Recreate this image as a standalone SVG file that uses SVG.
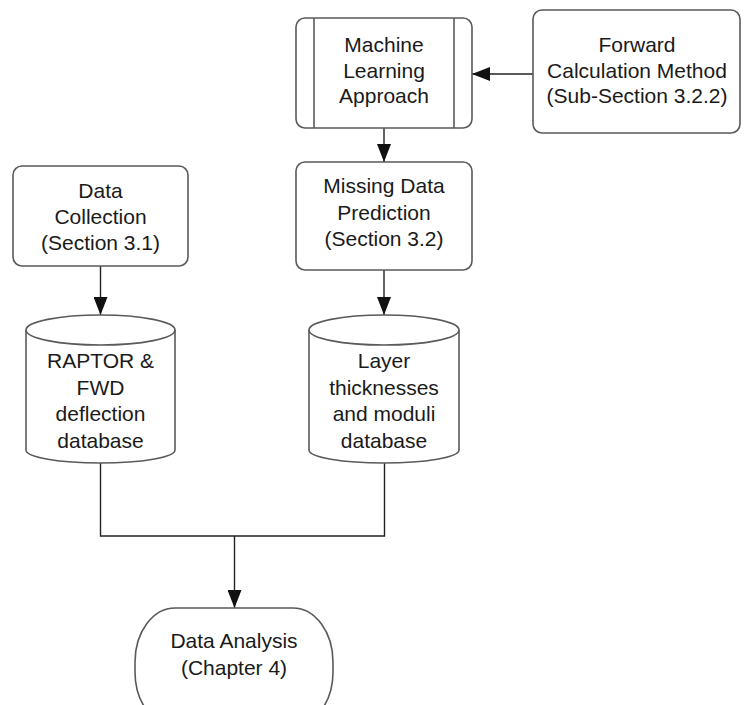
<svg xmlns="http://www.w3.org/2000/svg" width="746" height="705" viewBox="0 0 746 705">
  <style>
    .shape { fill: #ffffff; stroke: #5a5a5a; stroke-width: 1.6; }
    .edge { fill: none; stroke: #222222; stroke-width: 1.4; }
    text { font-family: "Liberation Sans", Arial, sans-serif; font-size: 21px; fill: #1a1a1a; text-anchor: middle; }
  </style>
  <defs>
    <marker id="arrow" markerUnits="userSpaceOnUse" markerWidth="18" markerHeight="14" viewBox="0 0 18 14" refX="18" refY="7" orient="auto">
      <path d="M0,0 L18,7 L0,14 Z" fill="#111111"/>
    </marker>
  </defs>
  <rect width="746" height="705" fill="#ffffff"/>

  <!-- connectors -->
  <g id="connectors">
    <line class="edge" x1="533" y1="74" x2="472" y2="74" marker-end="url(#arrow)"/>
    <line class="edge" x1="384" y1="128" x2="384" y2="162" marker-end="url(#arrow)"/>
    <line class="edge" x1="384" y1="270" x2="384" y2="315" marker-end="url(#arrow)"/>
    <line class="edge" x1="100.5" y1="266" x2="100.5" y2="315" marker-end="url(#arrow)"/>
    <polyline class="edge" points="100.5,463 100.5,536 384.5,536 384.5,463"/>
    <line class="edge" x1="234.5" y1="536" x2="234.5" y2="608" marker-end="url(#arrow)"/>
  </g>

  <!-- predefined process: machine learning -->
  <g id="ml-approach">
    <rect class="shape" x="296" y="18" width="176" height="110" rx="9"/>
    <line class="shape" x1="314" y1="18" x2="314" y2="128"/>
    <line class="shape" x1="454" y1="18" x2="454" y2="128"/>
    <text x="384" y="52">Machine</text>
    <text x="384" y="77.5">Learning</text>
    <text x="384" y="103">Approach</text>
  </g>

  <g id="forward-calc">
    <rect class="shape" x="533" y="10" width="207" height="123" rx="9"/>
    <text x="637" y="52">Forward</text>
    <text x="637" y="77.5">Calculation Method</text>
    <text x="637" y="103">(Sub-Section 3.2.2)</text>
  </g>

  <g id="data-collection">
    <rect class="shape" x="13" y="166" width="175" height="100" rx="9"/>
    <text x="100.5" y="198">Data</text>
    <text x="100.5" y="224">Collection</text>
    <text x="100.5" y="250">(Section 3.1)</text>
  </g>

  <g id="missing-data">
    <rect class="shape" x="296" y="162" width="176" height="108" rx="9"/>
    <text x="384" y="193">Missing Data</text>
    <text x="384" y="220">Prediction</text>
    <text x="384" y="246">(Section 3.2)</text>
  </g>

  <!-- database cylinders -->
  <g id="raptor-db">
    <path class="shape" d="M26,330 L26,450 A74.5,13 0 0 0 175,450 L175,330"/>
    <ellipse class="shape" cx="100.5" cy="330" rx="74.5" ry="15"/>
    <text x="100.5" y="368">RAPTOR &amp;</text>
    <text x="100.5" y="394.5">FWD</text>
    <text x="100.5" y="421">deflection</text>
    <text x="100.5" y="447.5">database</text>
  </g>

  <g id="layer-db">
    <path class="shape" d="M309,330 L309,450 A75,13 0 0 0 459,450 L459,330"/>
    <ellipse class="shape" cx="384" cy="330" rx="75" ry="15"/>
    <text x="384" y="368">Layer</text>
    <text x="384" y="394.5">thicknesses</text>
    <text x="384" y="421">and moduli</text>
    <text x="384" y="447.5">database</text>
  </g>

  <!-- terminator -->
  <g id="data-analysis">
    <rect class="shape" x="135" y="608" width="198" height="118" rx="40" ry="54"/>
    <text x="234" y="648">Data Analysis</text>
    <text x="234" y="675">(Chapter 4)</text>
  </g>
</svg>
